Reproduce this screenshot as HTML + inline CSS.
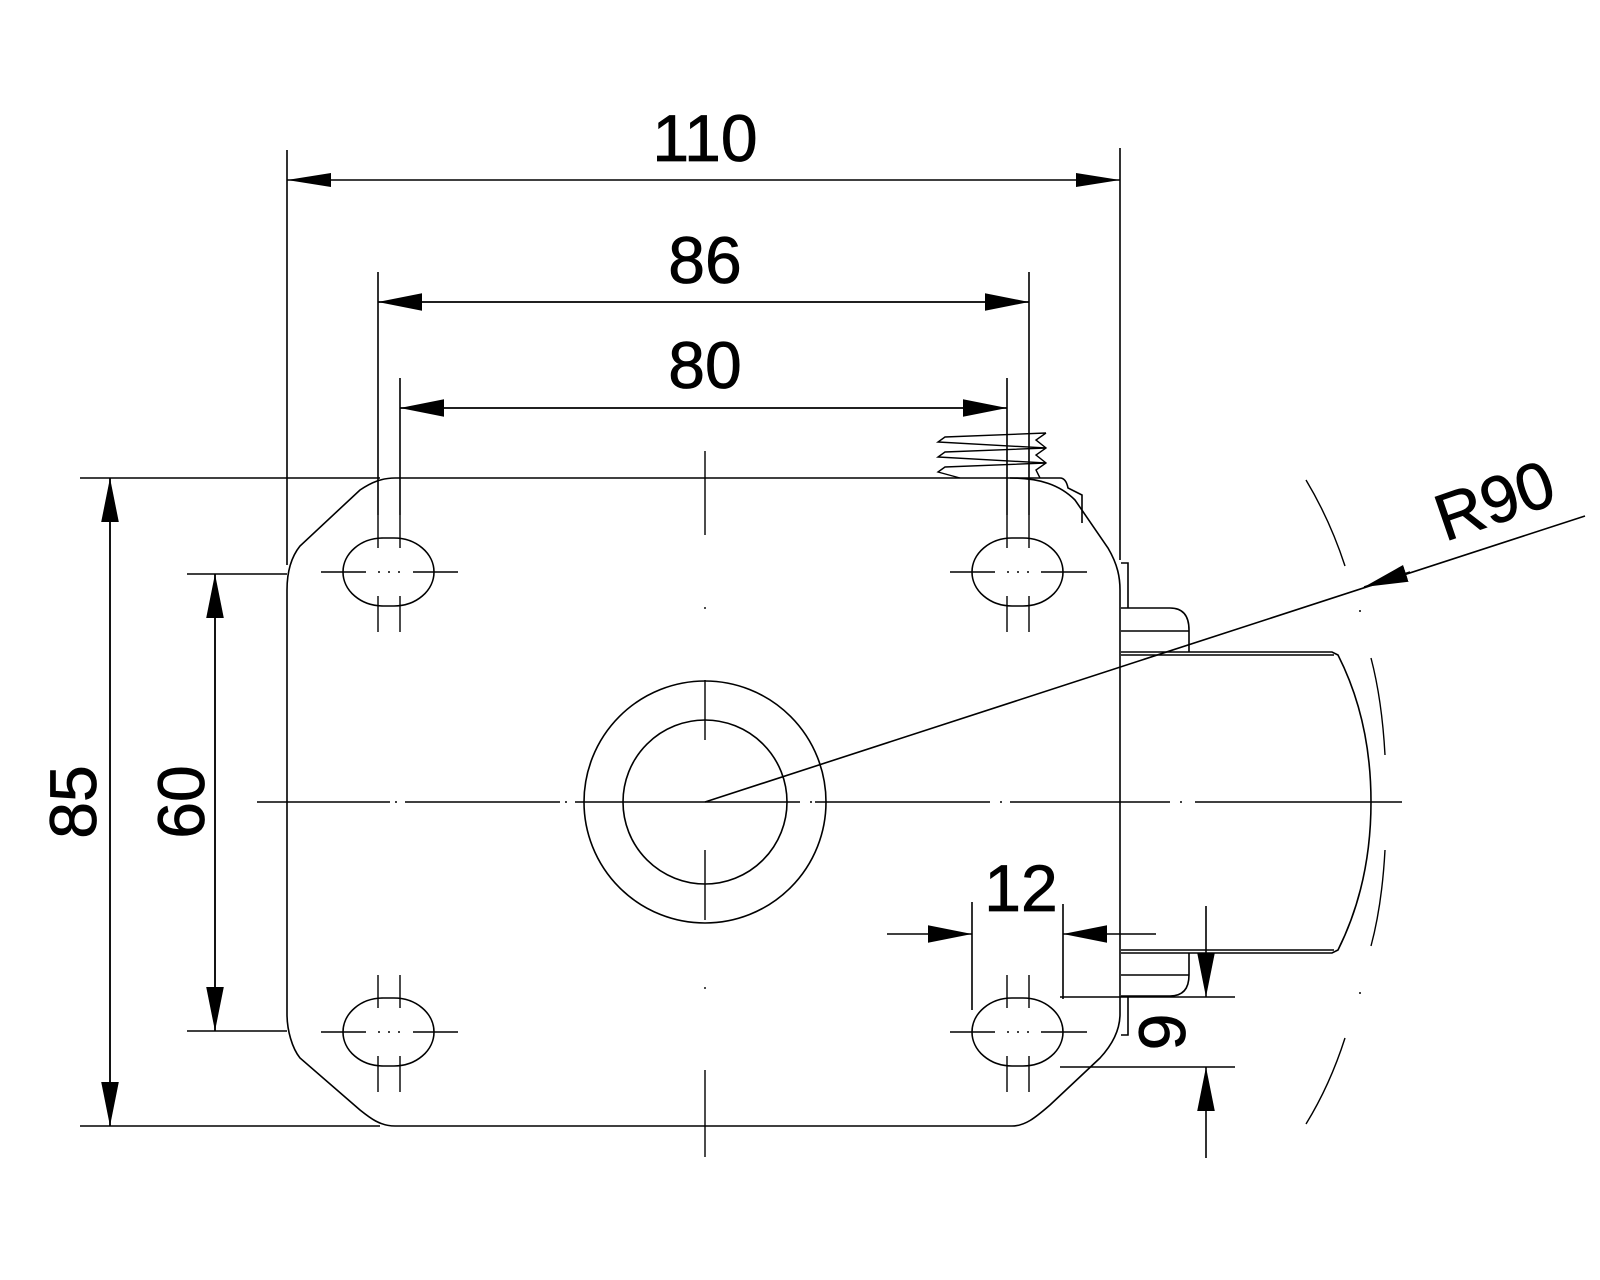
<!DOCTYPE html>
<html><head><meta charset="utf-8"><style>html,body{margin:0;padding:0;background:#fff}svg{display:block}</style></head><body>
<svg width="1600" height="1280" viewBox="0 0 1600 1280" xmlns="http://www.w3.org/2000/svg" font-family="Liberation Sans, sans-serif">
<defs>
<marker id="a" viewBox="0 0 10 4" refX="10" refY="2" markerWidth="44" markerHeight="18" markerUnits="userSpaceOnUse" orient="auto"><path d="M0,0L10,2L0,4z" fill="#000"/></marker>
</defs>
<g fill="none" stroke="#000" stroke-width="1.6">
<path d="M395,478 L1010,478 C1040,478 1060,485 1075,500 L1108,548 C1118,565 1120,578 1120,590 L1120,1014 C1120,1030 1112,1045 1100,1058 L1050,1105 C1035,1118 1025,1126 1012,1126 L395,1126 C380,1126 370,1118 360,1110 L300,1058 C292,1048 287,1030 287,1014 L287,590 C287,570 292,556 300,546 L360,490 C372,482 382,478 395,478 Z"/>
<rect x="343" y="538" width="91" height="68" rx="40" ry="34"/>
<rect x="972" y="538" width="91" height="68" rx="40" ry="34"/>
<rect x="343" y="998" width="91" height="68" rx="40" ry="34"/>
<rect x="972" y="998" width="91" height="68" rx="40" ry="34"/>
<g stroke-width="1.4">
<path d="M378,515V548M400,515V548M378,596V632M400,596V632M321,572H366M413,572H458"/>
<path d="M1007,515V548M1029,515V548M1007,596V632M1029,596V632M950,572H995M1041,572H1087"/>
<path d="M378,975V1008M400,975V1008M378,1056V1092M400,1056V1092M321,1032H366M413,1032H458"/>
<path d="M1007,975V1008M1029,975V1008M1007,1056V1092M1029,1056V1092M950,1032H995M1041,1032H1087"/>
<path d="M378,1032h2M388,1032h2M398,1032h2M1007,1032h2M1017,1032h2M1027,1032h2M378,572h2M388,572h2M398,572h2M1007,572h2M1017,572h2M1027,572h2"/>
</g>
<circle cx="705" cy="802" r="121"/>
<circle cx="705" cy="802" r="82"/>
<path d="M257,802H390M395,802h2M405,802H560M565,802h2M575,802H800M810,802h2M815,802H990M1000,802h2M1010,802H1170M1180,802h2M1195,802H1402" stroke-width="1.4"/>
<path d="M705,451V535M705,607v2M705,680V740M705,850V920M705,987v2M705,1070V1157" stroke-width="1.4"/>
<path d="M1121,563H1128V608"/>
<path d="M1121,608H1170Q1189,608 1189,630V652"/>
<path d="M1121,631H1189"/>
<path d="M1121,652H1332L1338,655Q1371,720 1371,802Q1371,884 1338,950L1332,953H1121"/>
<path d="M1121,655H1334M1121,950H1334"/>
<path d="M1121,996H1170Q1189,996 1189,975V953"/>
<path d="M1121,975H1189"/>
<path d="M1128,996V1035H1121"/>
<path d="M1306,480 Q1330,520 1345,566M1371,658Q1382,700 1385,755M1385,850Q1382,905 1371,946M1345,1038Q1330,1085 1306,1124" stroke-width="1.4"/>
<path d="M1359,611h2M1359,993h2"/>
<path d="M1046,433L945,437L938,442L1046,448L945,452L938,457L1046,463L945,467L938,472L960,478M1046,433L1036,440L1046,448L1036,455L1046,463L1036,470L1040,478" stroke-width="1.4"/>
<path d="M1010,478H1060Q1066,478 1068,488L1082,495V523"/>
<path d="M287,150V565M1120,148V560"/>
<path d="M287,180H1120"/>
<path d="M378,272V515M1029,272V515"/>
<path d="M378,302H1029" marker-end="url(#a)"/>
<path d="M1029,302H378" marker-end="url(#a)"/>
<path d="M400,378V515M1007,378V515"/>
<path d="M400,408H1007" marker-end="url(#a)"/>
<path d="M1007,408H400" marker-end="url(#a)"/>
<path d="M80,478H380M80,1126H380"/>
<path d="M110,478V1126" marker-end="url(#a)"/>
<path d="M110,1126V478" marker-end="url(#a)"/>
<path d="M187,574H287M187,1031H287"/>
<path d="M215,574V1031" marker-end="url(#a)"/>
<path d="M215,1031V574" marker-end="url(#a)"/>
<path d="M705,802L1585,516"/>
<path d="M1410,572L1364,587" marker-end="url(#a)"/>
<path d="M972,902V1010M1063,904V999"/>
<path d="M887,934H972" marker-end="url(#a)"/>
<path d="M1156,934H1063" marker-end="url(#a)"/>
<path d="M1060,997H1235M1060,1067H1235"/>
<path d="M1206,906V997" marker-end="url(#a)"/>
<path d="M1206,1158V1067" marker-end="url(#a)"/>
</g>
<path d="M287,180l44,-7v14z" fill="#000"/>
<path d="M1120,180l-44,-7v14z" fill="#000"/>
<g font-size="66" fill="#000" text-anchor="middle" stroke="#000" stroke-width="0.8">
<text x="705" y="161">110</text>
<text x="705" y="283">86</text>
<text x="705" y="388">80</text>
<text x="1021" y="911">12</text>
<text transform="translate(96,802) rotate(-90)">85</text>
<text transform="translate(204,802) rotate(-90)">60</text>
<text transform="translate(1185,1032) rotate(-90)">9</text>
<text transform="translate(1502,522) rotate(-19)">R90</text>
</g>
</svg>
</body></html>
